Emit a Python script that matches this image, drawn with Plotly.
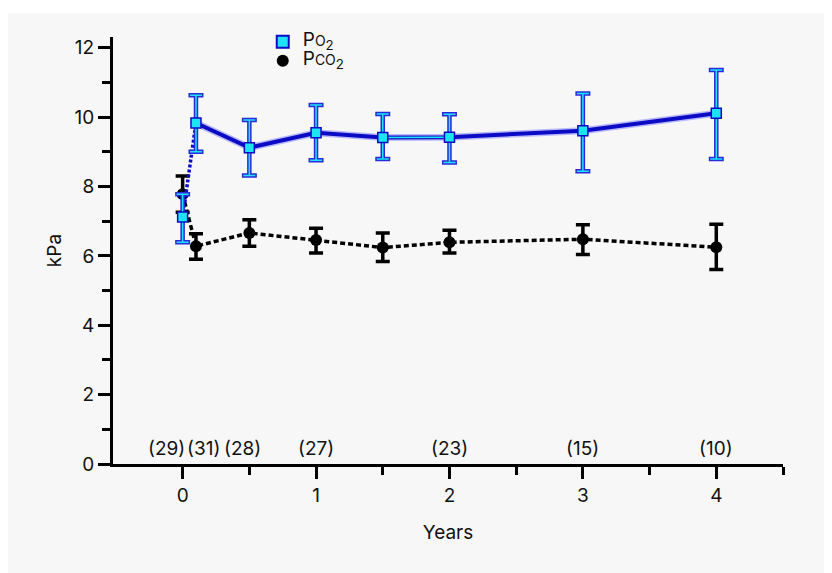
import plotly.graph_objects as go

# ---- data ----
years = [0, 0.1, 0.5, 1, 1.5, 2, 3, 4]

po2_mean = [7.12, 9.83, 9.12, 9.55, 9.41, 9.42, 9.61, 10.11]
po2_upper = [7.78, 10.63, 9.92, 10.35, 10.09, 10.08, 10.68, 11.36]
po2_lower = [6.39, 9.00, 8.32, 8.76, 8.79, 8.69, 8.44, 8.79]

pco2_mean = [7.78, 6.28, 6.66, 6.46, 6.24, 6.39, 6.48, 6.25]
pco2_upper = [8.30, 6.64, 7.04, 6.80, 6.66, 6.74, 6.90, 6.91]
pco2_lower = [7.26, 5.90, 6.28, 6.08, 5.84, 6.08, 6.04, 5.61]

n_years = [0, 0.1, 0.5, 1, 2, 3, 4]
n_labels = ["(29)", "(31)", "(28)", "(27)", "(23)", "(15)", "(10)"]
n_shift = [-16, 8, -7, 0, 0, 0, 0]

x_ticks = [0, 1, 2, 3, 4]
x_minor = [0.5, 1.5, 2.5, 3.5, 4.5]
y_ticks = [0, 2, 4, 6, 8, 10, 12]
y_minor = [1, 3, 5, 7, 9, 11]

# ---- styles ----
FONT = "Inter, Roboto, Liberation Sans, sans-serif"
FS = 19
BLUE = "#0b0bc6"
CYAN = "#1ee3f5"
HALO = "rgba(110,110,255,0.45)"
BG = "#f7f7f7"

po2_plus = [u - m for u, m in zip(po2_upper, po2_mean)]
po2_minus = [m - l for m, l in zip(po2_mean, po2_lower)]
pco2_plus = [u - m for u, m in zip(pco2_upper, pco2_mean)]
pco2_minus = [m - l for m, l in zip(pco2_mean, pco2_lower)]

po2_name = "<span style='font-size:19px'>P<span style='font-size:14px'>O</span><sub>2</sub></span>"
pco2_name = "<span style='font-size:19px'>P<span style='font-size:14px'>CO</span><sub>2</sub></span>"

fig = go.Figure()

# PCO2 dashed line
fig.add_trace(go.Scatter(
    x=years, y=pco2_mean, mode="lines", showlegend=False, hoverinfo="skip",
    line=dict(color="black", width=3.5, dash="5px,3px")))
# PCO2 markers + error bars
fig.add_trace(go.Scatter(
    x=years, y=pco2_mean, mode="markers", name=pco2_name, legendrank=2,
    marker=dict(symbol="circle", size=12, color="black"),
    error_y=dict(type="data", symmetric=False, array=pco2_plus, arrayminus=pco2_minus,
                 color="black", thickness=3.5, width=7)))

# PO2 halo
fig.add_trace(go.Scatter(
    x=years[1:], y=po2_mean[1:], mode="lines", showlegend=False, hoverinfo="skip",
    line=dict(color=HALO, width=7)))
# PO2 dotted first segment
fig.add_trace(go.Scatter(
    x=years[:2], y=po2_mean[:2], mode="lines", showlegend=False, hoverinfo="skip",
    line=dict(color=BLUE, width=3.5, dash="3px,2px")))
# PO2 solid line
fig.add_trace(go.Scatter(
    x=years[1:], y=po2_mean[1:], mode="lines", showlegend=False, hoverinfo="skip",
    line=dict(color=BLUE, width=4)))
# cyan core on the 1.5 -> 2 segment
fig.add_trace(go.Scatter(
    x=years[4:6], y=po2_mean[4:6], mode="lines", showlegend=False, hoverinfo="skip",
    line=dict(color=CYAN, width=1.5)))
# PO2 error bars outer (blue)
fig.add_trace(go.Scatter(
    x=years, y=po2_mean, mode="markers", showlegend=False, hoverinfo="skip",
    marker=dict(size=1, color="rgba(0,0,0,0)"),
    error_y=dict(type="data", symmetric=False, array=po2_plus, arrayminus=po2_minus,
                 color="#2a2ad8", thickness=4.5, width=7.5)))
# PO2 markers + inner (cyan) error bars
fig.add_trace(go.Scatter(
    x=years, y=po2_mean, mode="markers", name=po2_name, legendrank=1,
    marker=dict(symbol="square", size=10, color=CYAN, line=dict(color=BLUE, width=1.5)),
    error_y=dict(type="data", symmetric=False, array=po2_plus, arrayminus=po2_minus,
                 color=CYAN, thickness=1.5, width=6)))

for xv, txt, sh in zip(n_years, n_labels, n_shift):
    fig.add_annotation(x=xv, y=0, text=txt, showarrow=False, xanchor="center",
                       yanchor="middle", yshift=16, xshift=sh,
                       font=dict(family=FONT, size=FS, color="#111"))

# grey panel (white strip only at the very top/left of the page)
fig.add_shape(type="rect", xref="paper", yref="paper", x0=-0.3, x1=1.3, y0=-0.5, y1=1.056,
              fillcolor=BG, line=dict(width=0), layer="below")

fig.update_layout(
    width=824, height=565,
    margin=dict(l=105, r=49, t=29, b=109),
    paper_bgcolor="white", plot_bgcolor=BG,
    font=dict(family=FONT, size=FS, color="#111"),
    showlegend=True,
    legend=dict(x=0.2235, y=1.023, xanchor="left", yanchor="top",
                bgcolor="rgba(0,0,0,0)", font=dict(family=FONT, size=10, color="#111"),
                itemsizing="constant"),
    xaxis=dict(range=[-0.522, 4.5], showgrid=False, zeroline=False,
               showline=True, linecolor="black", linewidth=3,
               ticks="outside", ticklen=12, tickwidth=3, tickcolor="black",
               tickvals=x_ticks, ticktext=[str(v) for v in x_ticks],
               minor=dict(tickvals=x_minor, ticks="outside", ticklen=8, tickwidth=3, tickcolor="black"),
               tickfont=dict(family=FONT, size=FS),
               title=dict(text="Years", font=dict(family=FONT, size=FS), standoff=20)),
    yaxis=dict(range=[0, 12.31], showgrid=False, zeroline=False,
               showline=True, linecolor="black", linewidth=3,
               ticks="outside", ticklen=12, tickwidth=3, tickcolor="black",
               tickvals=y_ticks,
               minor=dict(tickvals=y_minor, ticks="outside", ticklen=8, tickwidth=3, tickcolor="black"),
               tickfont=dict(family=FONT, size=FS),
               title=dict(text="kPa", font=dict(family=FONT, size=FS), standoff=8)),
)

fig.write_html("out.html")
